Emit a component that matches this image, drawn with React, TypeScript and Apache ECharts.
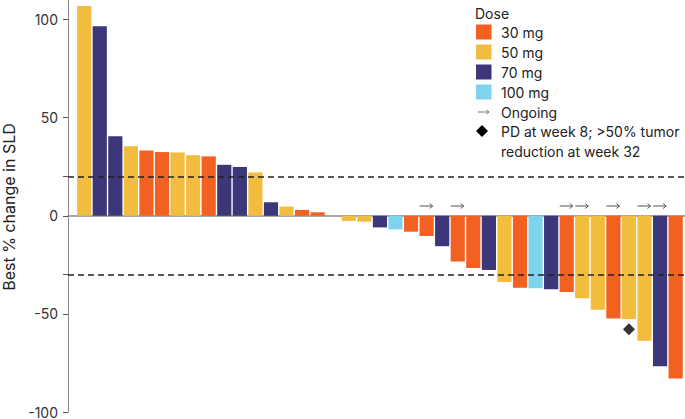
import React, { useEffect, useRef } from "react";
import * as echarts from "echarts";

const doseNames = ["30 mg", "50 mg", "70 mg", "100 mg"];
const doseColors = ["#F26122", "#F2BD3F", "#3B3778", "#7FD3EC"];

// dose index per patient (0:30mg, 1:50mg, 2:70mg, 3:100mg), null = no bar
const patientDose: (number | null)[] = [
  1, 2, 2, 1, 0, 0, 1, 1, 0, 2, 2, 1, 2, 1, 0, 0, null,
  1, 1, 2, 3, 0, 0, 2, 0, 0, 2, 1, 0, 3, 2, 0, 1, 1, 0, 1, 1, 2, 0,
];
const bestChange: (number | null)[] = [
  107, 96.6, 40.5, 35.4, 33.3, 32.5, 32.3, 30.9, 30.3, 26, 24.9, 22.1, 6.9, 4.7, 3.0, 1.8, null,
  -2.6, -3.0, -5.9, -6.9, -8.1, -10.3, -15.5, -23.3, -26.6, -27.6, -33.7, -36.7, -36.9, -37.4,
  -38.8, -42, -47.9, -52.3, -52.7, -63.7, -76.7, -82.9,
];
const ongoingIdx = [22, 24, 31, 32, 34, 36, 37];
const ongoingY = 5;
const pdPoints = [[35, -57.8]];
const thresholds = [20, -30];
const yLabelValues = [-100, -50, 0, 50, 100];
const yTickValues = [-100, -50, -30, 0, 20, 50, 100];

const FONT = "Inter, 'Noto Sans', sans-serif";

export default function App() {
  const ref = useRef<HTMLDivElement>(null);
  useEffect(() => {
    if (!ref.current) return;
    const chart = echarts.init(ref.current, null, { renderer: "svg" });

    const barData = bestChange.map((v, i) => ({
      value: [i, v],
      itemStyle: { color: patientDose[i] == null ? "transparent" : doseColors[patientDose[i] as number] },
    }));

    const legendRows = [32, 52, 72, 92];
    const legendGraphics: any[] = [
      {
        type: "text",
        x: 475,
        y: 13,
        style: { text: "Dose", font: `14px ${FONT}`, fill: "#222", textVerticalAlign: "middle" },
      },
    ];
    doseNames.forEach((name, k) => {
      legendGraphics.push({
        type: "rect",
        shape: { x: 476, y: legendRows[k] - 7.5, width: 15.5, height: 15 },
        style: { fill: doseColors[k] },
      });
      legendGraphics.push({
        type: "text",
        x: 501,
        y: legendRows[k],
        style: { text: name, font: `14px ${FONT}`, fill: "#222", textVerticalAlign: "middle" },
      });
    });
    legendGraphics.push(
      {
        type: "line",
        shape: { x1: 478, y1: 112, x2: 489, y2: 112 },
        style: { stroke: "#777", lineWidth: 1 },
      },
      {
        type: "polyline",
        shape: { points: [[486.5, 110], [489, 112], [486.5, 114]] },
        style: { stroke: "#777", lineWidth: 1, fill: null },
      },
      {
        type: "text",
        x: 501,
        y: 112,
        style: { text: "Ongoing", font: `14px ${FONT}`, fill: "#222", textVerticalAlign: "middle" },
      },
      {
        type: "polygon",
        shape: { points: [[482, 125], [488, 131], [482, 137], [476, 131]] },
        style: { fill: "#000" },
      },
      {
        type: "text",
        x: 501,
        y: 131,
        style: { text: "PD at week 8; >50% tumor", font: `14px ${FONT}`, fill: "#222", textVerticalAlign: "middle" },
      },
      {
        type: "text",
        x: 501,
        y: 151,
        style: { text: "reduction at week 32", font: `14px ${FONT}`, fill: "#222", textVerticalAlign: "middle" },
      },
      {
        type: "text",
        x: 9,
        y: 207,
        rotation: Math.PI / 2,
        style: {
          text: "Best % change in SLD",
          font: `16px ${FONT}`,
          fill: "#222",
          textAlign: "center",
          textVerticalAlign: "middle",
        },
      }
    );

    chart.setOption({
      animation: false,
      textStyle: { fontFamily: FONT },
      grid: { left: 68, right: 0, top: 0, bottom: 6, containLabel: false },
      xAxis: {
        type: "value",
        min: -1.04,
        max: 38.6,
        axisLine: { show: true, onZero: true, lineStyle: { color: "#888", width: 1.5 } },
        axisTick: { show: false },
        axisLabel: { show: false },
        splitLine: { show: false },
      },
      yAxis: {
        type: "value",
        min: -100,
        max: 110,
        axisLine: { show: true, onZero: false, lineStyle: { color: "#888", width: 1 } },
        axisTick: { show: true, length: 5, lineStyle: { color: "#555", width: 1 }, customValues: yTickValues },
        axisLabel: {
          show: true,
          customValues: yLabelValues,
          color: "#333",
          fontSize: 14,
          fontFamily: FONT,
          margin: 10,
        },
        splitLine: { show: false },
      },
      series: [
        {
          type: "bar",
          data: barData,
          barWidth: 14.2,
          markLine: {
            silent: true,
            symbol: "none",
            label: { show: false },
            lineStyle: { type: [6, 4], color: "#222", width: 1.5 },
            data: thresholds.map((t) => ({ yAxis: t })),
          },
        },
        {
          type: "custom",
          data: ongoingIdx.map((i) => [i, ongoingY]),
          renderItem: (params: any, api: any) => {
            const p = api.coord([api.value(0), api.value(1)]);
            return {
              type: "group",
              children: [
                {
                  type: "line",
                  shape: { x1: p[0] - 7, y1: p[1], x2: p[0] + 6, y2: p[1] },
                  style: { stroke: "#555", lineWidth: 1 },
                },
                {
                  type: "polyline",
                  shape: { points: [[p[0] + 3, p[1] - 2.5], [p[0] + 6, p[1]], [p[0] + 3, p[1] + 2.5]] },
                  style: { stroke: "#555", lineWidth: 1, fill: null },
                },
              ],
            };
          },
        },
        {
          type: "scatter",
          data: pdPoints,
          symbol: "diamond",
          symbolSize: [12, 12],
          itemStyle: { color: "#000" },
        },
      ],
      graphic: legendGraphics,
    });
    return () => chart.dispose();
  }, []);
  return (
    <div
      ref={ref}
      style={{ position: "fixed", left: 0, top: 0, width: 685, height: 419, background: "#fff" }}
    />
  );
}
